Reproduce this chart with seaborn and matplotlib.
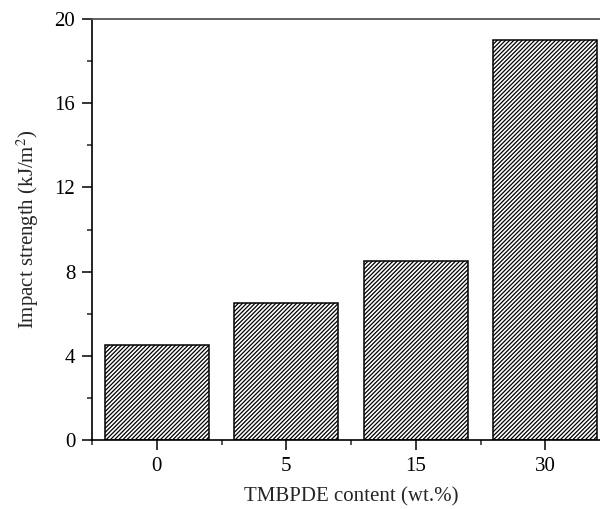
import matplotlib
matplotlib.use("Agg")
import matplotlib.pyplot as plt
import seaborn as sns
import pandas as pd
from matplotlib.ticker import MultipleLocator

# Данные
content = ["0", "5", "15", "30"]
strength = [4.5, 6.5, 8.5, 19.0]

df = pd.DataFrame({"content": content, "strength": strength})

sns.set_style("ticks")
plt.rcParams['font.family'] = ['Liberation Serif', 'DejaVu Serif']
plt.rcParams['hatch.linewidth'] = 0.9
plt.rcParams['mathtext.fontset'] = 'stix'

fig = plt.figure(figsize=(6, 5.09), dpi=100)
ax = fig.add_axes([92 / 600, 69 / 509, 518 / 600, 421 / 509])

sns.barplot(data=df, x="content", y="strength", color="white", saturation=1,
            edgecolor="black", linewidth=1.1, width=0.8, ax=ax, zorder=2)
for bar in ax.patches:
    bar.set_hatch("////////")

ax.set_xlim(-0.5, 3.5)
ax.set_ylim(0, 20)
ax.yaxis.set_major_locator(MultipleLocator(4))
ax.yaxis.set_minor_locator(MultipleLocator(2))
ax.set_xticks([-0.5, 0.5, 1.5, 2.5], minor=True)

ax.tick_params(which="major", direction="out", length=7, width=1.1, labelsize=15, colors="black", pad=5)
ax.tick_params(which="minor", direction="out", length=3.5, width=1.1)

for side in ["left", "bottom"]:
    ax.spines[side].set_linewidth(1.2)
    ax.spines[side].set_color("black")
ax.spines["top"].set_visible(True)
ax.spines["top"].set_color("#555555")
ax.spines["top"].set_linewidth(1.3)
ax.spines["right"].set_visible(False)

ax.set_xlabel("TMBPDE content (wt.%)", fontsize=15, labelpad=8)
ax.set_ylabel("Impact strength (kJ/m$^2$)", fontsize=15, labelpad=10)

fig.savefig("out.png", dpi=100)
